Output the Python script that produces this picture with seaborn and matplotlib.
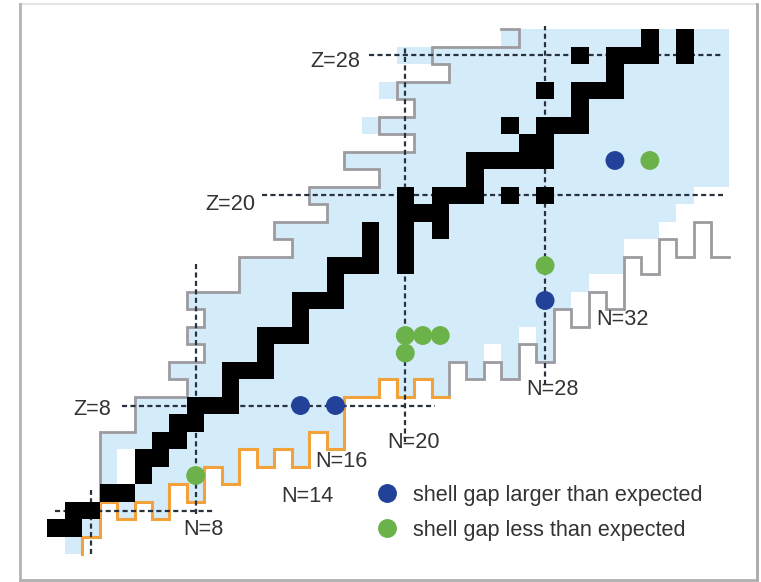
import numpy as np
import pandas as pd
import matplotlib
matplotlib.use("Agg")
import matplotlib.pyplot as plt
from matplotlib.colors import ListedColormap
from matplotlib.lines import Line2D
import seaborn as sns

plt.rcParams["font.family"] = ["Liberation Sans", "DejaVu Sans"]

# ---------------------------------------------------------------- data
N_MAX, Z_MAX = 38, 29

# stable nuclides: proton number -> neutron numbers
stable = {
    1: [0, 1], 2: [1, 2], 3: [3, 4], 4: [5], 5: [5, 6], 6: [6, 7], 7: [7, 8],
    8: [8, 9, 10], 9: [10], 10: [10, 11, 12], 11: [12], 12: [12, 13, 14],
    13: [14], 14: [14, 15, 16], 15: [16], 16: [16, 17, 18, 20], 17: [18, 20],
    18: [18, 20, 22], 19: [20, 21, 22], 20: [20, 22, 23, 24, 26, 28],
    21: [24], 22: [24, 25, 26, 27, 28], 23: [27, 28], 24: [26, 28, 29, 30],
    25: [30], 26: [28, 30, 31, 32], 27: [32], 28: [30, 32, 33, 34, 36],
    29: [34, 36],
}

# proton-rich limit: first bound neutron number for Z = 0..29
proton_edge = [1, 0, 1, 3, 3, 3, 3, 5, 5, 8, 7, 9, 8, 9, 8, 11, 11, 14, 13,
               16, 15, 19, 17, 21, 19, 21, 20, 23, 22, 27]
proton_edge_top = 26          # edge of the Z = 30 row, closes the line

# neutron-rich limit: lowest Z per neutron number N = 2..38
drip_n = list(range(2, 39))
drip_z = [1, 3, 2, 3, 2, 4, 3, 5, 4, 6, 5, 6, 5, 7, 6, 9, 9, 10, 9, 10, 9,
          11, 10, 11, 10, 12, 11, 14, 13, 15, 14, 17, 16, 18, 17, 19, 17]
orange_until = 23             # drip line drawn orange up to this N edge

# lowest observed Z per neutron number N = 0..38
known_min_z = [1, 0, 1, 3, 2, 3, 2, 4, 3, 5, 4, 6, 5, 6, 5, 7, 6, 9, 9, 10,
               9, 10, 9, 11, 10, 12, 10, 13, 11, 14, 15, 16, 16, 18, 18, 19,
               20, 21, 21]
known_extra = [(20, 28), (21, 28), (19, 26), (18, 24), (26, 29)]
unbound_holes = [(4, 4), (4, 5)]

# magic-number guide lines: (label value, start, stop)
z_guides = [(2, 0.45, 9.5), (8, 4.3, 22.2), (20, 12.3, 38.7), (28, 18.4, 38.7)]
n_guides = [(2, 0.0, 3.7), (8, 2.3, 16.7), (20, 6.4, 28.9), (28, 9.7, 30.2)]

# shell-gap observations (N, Z)
gap_larger = [(14, 8), (16, 8), (28, 14), (32, 22)]
gap_less = [(8, 4), (20, 11), (20, 12), (21, 12), (22, 12), (28, 16), (34, 22)]

z_labels = [("Z=28", 17.9, 27.82), ("Z=20", 11.9, 19.67), ("Z=8", 3.69, 7.96)]
n_labels = [("N=8", 8.92, 1.1), ("N=14", 14.9, 3.0), ("N=16", 16.86, 5.0),
            ("N=20", 20.96, 6.06), ("N=28", 28.92, 9.1), ("N=32", 32.93, 13.1)]
legend_items = [("shell gap larger than expected", 3.05),
                ("shell gap less than expected", 1.05)]

# ---------------------------------------------------------------- colours
C_KNOWN = "#d4ebf9"
C_STABLE = "#000000"
C_GRAY = "#9c9ca0"
C_ORANGE = "#f2a23a"
C_GUIDE = "#28323f"
C_BLUE = "#22429a"
C_GREEN = "#6cb24a"
C_TEXT = "#333333"

# ---------------------------------------------------------------- grids
ns = np.arange(N_MAX + 1)
zs = np.arange(Z_MAX + 1)
known = pd.DataFrame(0.0, index=zs, columns=ns)
for z in zs:
    for n in ns:
        if z >= known_min_z[n] and n >= proton_edge[z]:
            known.loc[z, n] = 1.0
for n, z in known_extra:
    known.loc[z, n] = 1.0
for n, z in unbound_holes:
    known.loc[z, n] = 0.0

stab = pd.DataFrame(0.0, index=zs, columns=ns)
for z, nlist in stable.items():
    for n in nlist:
        stab.loc[z, n] = 1.0

# ---------------------------------------------------------------- figure
fig = plt.figure(figsize=(7.61, 5.82), dpi=100)
ax = fig.add_axes([0, 0, 1, 1])

sns.heatmap(known, mask=known.values < 0.5, cmap=ListedColormap([C_KNOWN]),
            cbar=False, ax=ax, linewidths=0, vmin=0, vmax=1, zorder=1)

# proton drip line
px, py = [proton_edge_top], [Z_MAX + 1]
for z in range(Z_MAX, 2, -1):
    px += [proton_edge[z], proton_edge[z]]
    py += [z + 1, z]
ax.plot(px, py, color=C_GRAY, lw=2.0, solid_joinstyle="miter", zorder=3)

# neutron drip line
def drip_path(pairs, x0, y0):
    xs, ys = [x0], [y0]
    for n, z in pairs:
        xs += [n, n + 1]
        ys += [z, z]
    return xs, ys

low = [(n, z) for n, z in zip(drip_n, drip_z) if n < orange_until]
high = [(n, z) for n, z in zip(drip_n, drip_z) if n >= orange_until]
ox, oy = drip_path(low, drip_n[0], 0)
gx, gy = drip_path(high, orange_until, low[-1][1])
ax.plot(gx, gy, color=C_GRAY, lw=2.0, solid_joinstyle="miter", zorder=3)
ax.plot(ox, oy, color=C_ORANGE, lw=2.2, solid_joinstyle="miter", zorder=3)

# magic-number guides
for z, a, b in z_guides:
    ax.plot([a, b], [z + 0.5, z + 0.5], color=C_GUIDE, lw=1.6,
            dashes=(2.3, 1.5), zorder=4)
for n, a, b in n_guides:
    ax.plot([n + 0.5, n + 0.5], [a, b], color=C_GUIDE, lw=1.6,
            dashes=(2.3, 1.5), zorder=4)

sns.heatmap(stab, mask=stab.values < 0.5, cmap=ListedColormap([C_STABLE]),
            cbar=False, ax=ax, linewidths=0, vmin=0, vmax=1)
ax.collections[-1].set_zorder(5)

pts = pd.DataFrame(
    [(n + 0.5, z + 0.5, "larger") for n, z in gap_larger]
    + [(n + 0.5, z + 0.5, "less") for n, z in gap_less],
    columns=["N", "Z", "gap"])
sns.scatterplot(data=pts, x="N", y="Z", hue="gap",
                palette={"larger": C_BLUE, "less": C_GREEN},
                s=185, linewidth=0, legend=False, ax=ax, zorder=6)

# legend built from the same marker style
leg_x = 19.43
for (text, base), col in zip(legend_items, [C_BLUE, C_GREEN]):
    ax.scatter([leg_x], [base + 0.44], s=185, color=col, linewidths=0, zorder=6)
    ax.text(20.95, base, text, fontsize=15.6, color=C_TEXT,
            ha="left", va="baseline", zorder=7)

for text, x, y in z_labels:
    ax.text(x, y, text, fontsize=15.6, color=C_TEXT, ha="right", va="baseline", zorder=7)
for text, x, y in n_labels:
    ax.text(x, y, text, fontsize=15.6, color=C_TEXT, ha="center", va="baseline", zorder=7)

ax.set_xlim(-2.70, 40.86)
ax.set_ylim(-1.583, 31.67)
ax.axis("off")

# picture frame
W, H = 761, 582
def fline(x0, y0, x1, y1, color, lw):
    fig.add_artist(Line2D([x0 / W, x1 / W], [1 - y0 / H, 1 - y1 / H],
                          color=color, lw=lw, transform=fig.transFigure))
fline(20, 4, 757, 4, "#e4e4e4", 1.5)
fline(20, 4, 20, 580, "#b4b4b4", 2.0)
fline(756.5, 4, 756.5, 580, "#a8a8a8", 2.0)
fline(20, 579.5, 757, 579.5, "#b0b0b0", 2.0)

fig.savefig("out.png", dpi=100, facecolor="white")
